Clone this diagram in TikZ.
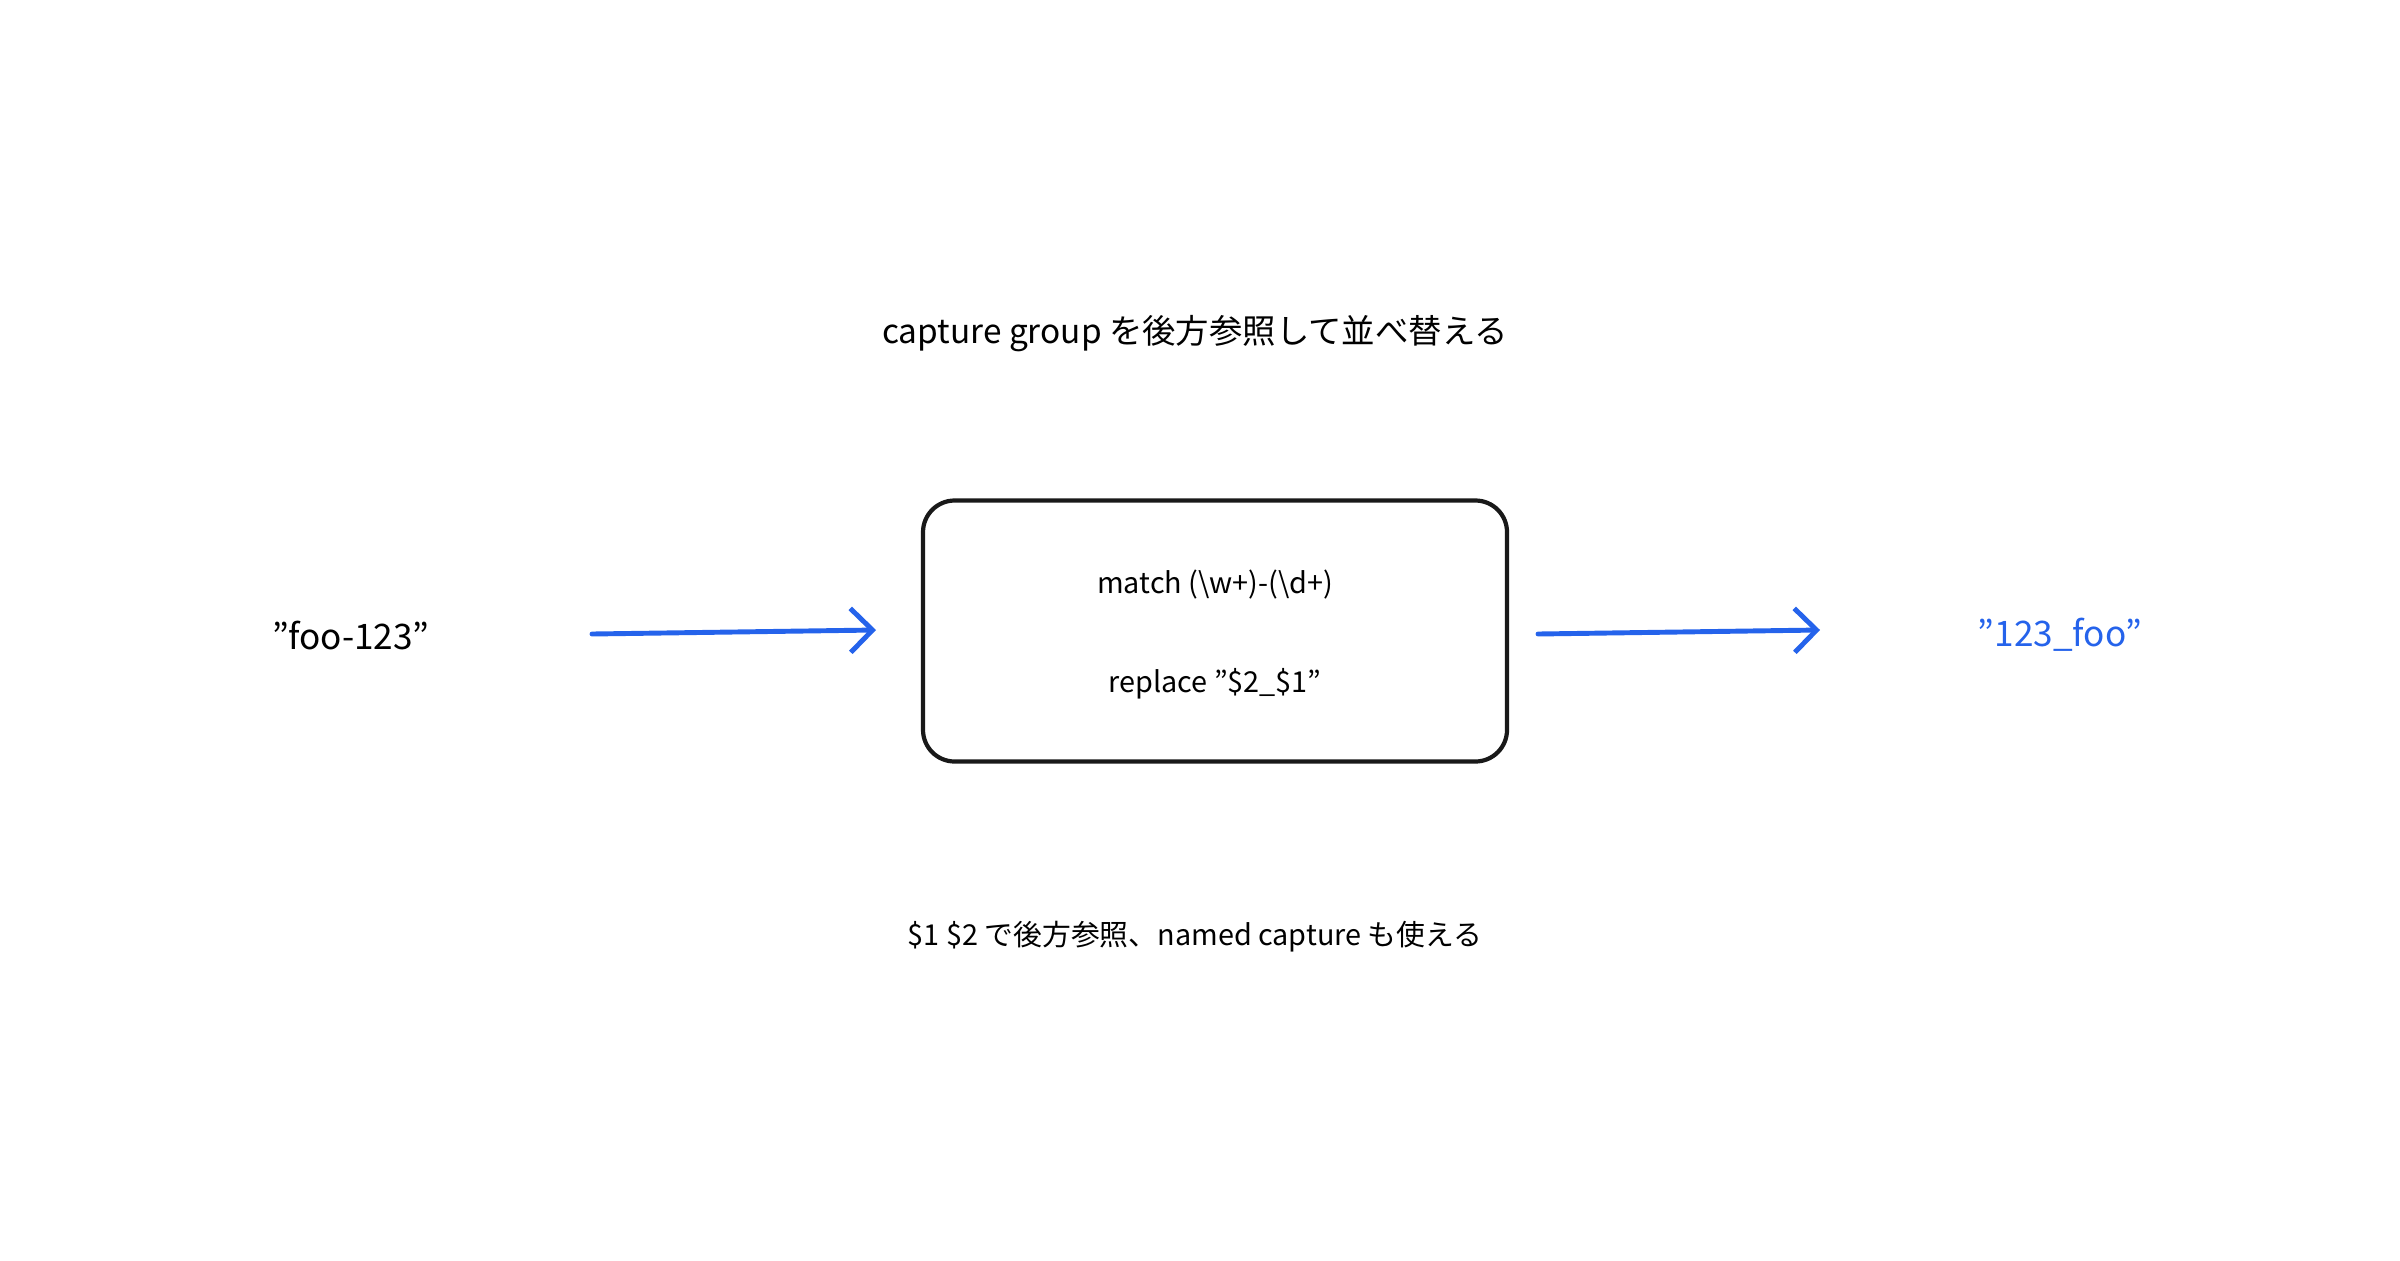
\documentclass[tikz,border=0pt]{standalone}
\usepackage{fontspec}
\setmainfont{Noto Sans CJK JP}
\usetikzlibrary{arrows.meta}
\definecolor{pfeilblau}{RGB}{37,99,235}
\newcommand{\dq}{\symbol{34}}
\tikzset{
  flow/.style={pfeilblau, line width=1.4pt, line cap=round, -{Straight Barb[length=2.2mm, width=4.4mm, line width=1.4pt]}},
  label/.style={font=\fontsize{9}{11}\selectfont},
}
\begin{document}
\begin{tikzpicture}
	\useasboundingbox (0,0) rectangle (24,12.6);

	\node[label, font=\fontsize{9.5}{12}\selectfont] (title) at (11.95,9.26) {capture group を後方参照して並べ替える};
	\node[draw=black!90, line width=1.2pt, rounded corners=9pt, minimum width=5.84cm, minimum height=2.61cm] (regex) at (12.15,6.29) {};
	\node[label, font=\fontsize{8.2}{10}\selectfont] (match) at (12.15,6.75) {match (\textbackslash w+)-(\textbackslash d+)};
	\node[label, font=\fontsize{8.2}{10}\selectfont] (repl) at (12.15,5.76) {replace \dq\$2\_\$1\dq};
	\node[label, font=\fontsize{10}{12}\selectfont] (input) at (3.51,6.25) {\dq foo-123\dq};
	\node[label, font=\fontsize{10}{12}\selectfont, text=pfeilblau] (output) at (20.6,6.25) {\dq 123\_foo\dq};
	\node[label, font=\fontsize{8.2}{10}\selectfont] (note) at (11.95,3.23) {\$1 \$2 で後方参照、named capture も使える};

	\coordinate (a1) at (5.92,6.26);
	\coordinate (a2) at (8.76,6.30);
	\coordinate (b1) at (15.38,6.26);
	\coordinate (b2) at (18.20,6.30);
	\draw[flow] (a1) -- (a2);
	\draw[flow] (b1) -- (b2);

\end{tikzpicture}
\end{document}
